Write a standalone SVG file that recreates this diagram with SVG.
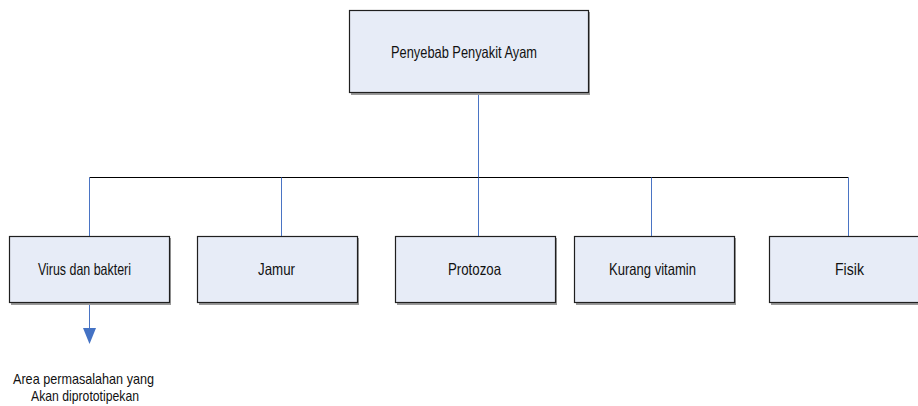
<svg xmlns="http://www.w3.org/2000/svg" width="918" height="406" viewBox="0 0 918 406">
<style>
.box{fill:#E7ECF7;stroke:#1f1f1f;stroke-width:1.2}
.shadow{fill:#9a9a9a}
.lbl{font-family:"Liberation Sans",Arial,sans-serif;font-size:16.5px;fill:#111;text-anchor:middle}
.note{font-size:15px}
.bus{stroke:#000;stroke-width:1;fill:none}
.drop{stroke:#4A74C4;stroke-width:1;fill:none}
</style>
<rect width="918" height="406" fill="#fff"/>
<g id="connectors">
<line class="drop" x1="478.5" y1="93" x2="478.5" y2="177.5"/>
<line class="bus" x1="89.5" y1="177.5" x2="848.5" y2="177.5"/>
<line class="drop" x1="89.5" y1="177.5" x2="89.5" y2="236"/>
<line class="drop" x1="281.5" y1="177.5" x2="281.5" y2="236"/>
<line class="drop" x1="478.5" y1="177.5" x2="478.5" y2="236"/>
<line class="drop" x1="651.5" y1="177.5" x2="651.5" y2="236"/>
<line class="drop" x1="848.5" y1="177.5" x2="848.5" y2="236"/>
<line class="drop" x1="89.5" y1="303" x2="89.5" y2="329"/>
<path d="M83,328 L96,328 L89.5,344 Z" fill="#4472C4"/>
</g>
<g id="root">
<rect class="shadow" x="351" y="12" width="239" height="83"/>
<rect class="box" x="349.5" y="10.5" width="239" height="82"/>
<text class="lbl" x="464" y="57.5" textLength="146" lengthAdjust="spacingAndGlyphs">Penyebab Penyakit Ayam</text>
</g>
<g id="virus">
<rect class="shadow" x="11" y="238" width="160" height="67"/>
<rect class="box" x="9.5" y="236.5" width="160" height="66"/>
<text class="lbl" x="84.5" y="274.5" textLength="93" lengthAdjust="spacingAndGlyphs">Virus dan bakteri</text>
</g>
<g id="jamur">
<rect class="shadow" x="199" y="238" width="160" height="67"/>
<rect class="box" x="197.5" y="236.5" width="160" height="66"/>
<text class="lbl" x="276.5" y="274.5" textLength="37" lengthAdjust="spacingAndGlyphs">Jamur</text>
</g>
<g id="protozoa">
<rect class="shadow" x="397" y="238" width="160" height="67"/>
<rect class="box" x="395.5" y="236.5" width="160" height="66"/>
<text class="lbl" x="474.5" y="274.5" textLength="53" lengthAdjust="spacingAndGlyphs">Protozoa</text>
</g>
<g id="kurang">
<rect class="shadow" x="576" y="238" width="160" height="67"/>
<rect class="box" x="574.5" y="236.5" width="160" height="66"/>
<text class="lbl" x="652.5" y="274.5" textLength="87" lengthAdjust="spacingAndGlyphs">Kurang vitamin</text>
</g>
<g id="fisik">
<rect class="shadow" x="771" y="238" width="160" height="67"/>
<rect class="box" x="769.5" y="236.5" width="160" height="66"/>
<text class="lbl" x="849.5" y="274.5" textLength="29" lengthAdjust="spacingAndGlyphs">Fisik</text>
</g>
<g id="note">
<text class="lbl note" x="83.5" y="384" textLength="141" lengthAdjust="spacingAndGlyphs">Area permasalahan yang</text>
<text class="lbl note" x="85" y="401" textLength="108" lengthAdjust="spacingAndGlyphs">Akan diprototipekan</text>
</g>
</svg>
